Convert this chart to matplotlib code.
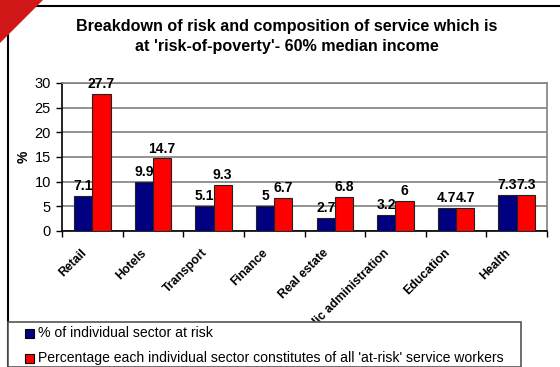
import matplotlib

matplotlib.use("Agg")
import matplotlib.pyplot as plt
import numpy as np
from matplotlib.lines import Line2D
from matplotlib.patches import Polygon, Rectangle

plt.rcParams["font.family"] = ["Liberation Sans", "DejaVu Sans"]

sectors = ["Retail", "Hotels", "Transport", "Finance", "Real estate",
           "Public administration", "Education", "Health"]
at_risk = [7.1, 9.9, 5.1, 5, 2.7, 3.2, 4.7, 7.3]
share_of_poor = [27.7, 14.7, 9.3, 6.7, 6.8, 6, 4.7, 7.3]
series_names = ["% of individual sector at risk",
                "Percentage each individual sector constitutes of all 'at-risk' service workers"]
NAVY, RED = "#000080", "#ff0000"

W, H = 560, 367
fig = plt.figure(figsize=(W / 100, H / 100), dpi=100)
fig.patch.set_facecolor("white")


def fx(px):
    return px / W


def fy(py):
    return 1 - py / H


ax = fig.add_axes([fx(62), fy(231), fx(547) - fx(62), fy(83) - fy(231)])
x = np.arange(len(sectors))
w = 0.3
b1 = ax.bar(x - w / 2, at_risk, w, color=NAVY, edgecolor="#222222", lw=0.8, zorder=3)
b2 = ax.bar(x + w / 2, share_of_poor, w, color=RED, edgecolor="#222222", lw=0.8, zorder=3)
for bars, vals in ((b1, at_risk), (b2, share_of_poor)):
    for r, v in zip(bars, vals):
        ax.text(r.get_x() + r.get_width() / 2, v + 0.6, f"{v:g}", ha="center",
                va="bottom", fontsize=10, fontweight="bold", zorder=4)

ax.set_xlim(-0.5, len(sectors) - 0.5)
ax.set_ylim(0, 30)
ax.set_yticks(range(0, 31, 5))
ax.tick_params(axis="y", labelsize=10.5, length=4, width=1, direction="out", pad=4)
ax.set_xticks(np.arange(len(sectors) + 1) - 0.5, minor=False)
ax.set_xticklabels([])
ax.tick_params(axis="x", length=4, width=1, direction="out")
for xi, name in zip(x, sectors):
    ax.text(xi - 0.2, -3.2, name, rotation=45, ha="right", va="top",
            rotation_mode="anchor", fontsize=8.8, fontweight="bold")
ax.grid(axis="y", color="#808080", lw=1.2, zorder=1)
ax.spines["left"].set_linewidth(1.2)
ax.spines["bottom"].set_linewidth(1.2)
for side in ("top", "right"):
    ax.spines[side].set_color("#808080")
    ax.spines[side].set_linewidth(1.2)
ax.set_ylabel("%", fontsize=10, fontweight="bold", labelpad=3)

fig.text(fx(287), fy(27), "Breakdown of risk and composition of service which is",
         ha="center", va="center", fontsize=11.6, fontweight="bold")
fig.text(fx(287), fy(47), "at 'risk-of-poverty'- 60% median income",
         ha="center", va="center", fontsize=11.6, fontweight="bold")

# chart frame
fig.add_artist(Line2D([fx(8), 1], [fy(6), fy(6)], color="black", lw=1.5))
fig.add_artist(Line2D([fx(8), fx(8)], [fy(6), 0], color="black", lw=1.5))

# legend box sits over the bottom of the category labels
fig.add_artist(Rectangle((fx(8), 0), fx(521) - fx(8), fy(322), facecolor="white",
                         edgecolor="#555555", lw=1.2, zorder=10))
for yy, col, label in ((333, NAVY, series_names[0]), (358, RED, series_names[1])):
    fig.add_artist(Rectangle((fx(25), fy(yy + 4.5)), fx(9), fy(0) - fy(9),
                             facecolor=col, edgecolor="black", lw=0.8, zorder=11))
    fig.text(fx(38), fy(yy), label, ha="left", va="center", fontsize=10.1, zorder=12)

# red corner decoration
fig.add_artist(Polygon([[0, 1], [fx(43), 1], [0, fy(43)]], closed=True,
                       facecolor="#d01818", edgecolor="none", zorder=20))

fig.savefig("out.png", dpi=100)
